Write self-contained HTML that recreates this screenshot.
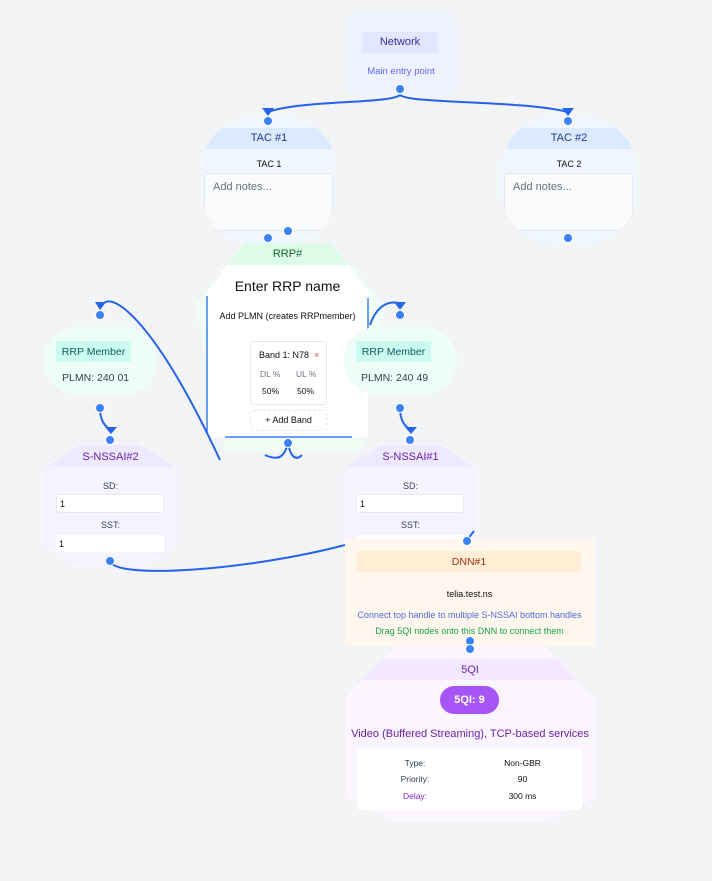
<!DOCTYPE html>
<html><head><meta charset="utf-8"><style>
*{margin:0;padding:0;box-sizing:border-box}
body{width:712px;height:881px;background:#f3f4f6;background-image:radial-gradient(#dfe2e7 0.8px,transparent 0.9px);background-size:16px 16px;font-family:"Liberation Sans",sans-serif;position:relative;overflow:hidden}
.a{position:absolute}
.t{position:absolute;text-align:center;white-space:nowrap}
.h{position:absolute;width:10px;height:10px;border-radius:50%;background:#3b82f6;border:1px solid #fff}
</style></head><body>

<!-- Network -->
<div class="a" style="left:345px;top:14px;width:112px;height:81px;border-radius:12px;background:#eef2ff"></div>
<div class="a" style="left:362px;top:32px;width:76px;height:21px;background:#e0e7ff"></div>
<div class="t" style="left:362px;top:36px;width:76px;font-size:11px;color:#3730a3">Network</div>
<div class="t" style="left:345px;top:66px;width:112px;font-size:9.5px;color:#6366f1">Main entry point</div>

<!-- TAC nodes -->
<div class="a" style="left:202px;top:118px;width:134px;height:125px;border-radius:50px;background:#eff6ff;overflow:hidden">
 <div class="a" style="left:0;top:10px;width:134px;height:21px;background:#dbeafe"></div>
 <div class="t" style="left:0;top:14px;width:134px;font-size:11px;color:#1e3a8a">TAC #1</div>
 <div class="t" style="left:0;top:41px;width:134px;font-size:9px;color:#111">TAC 1</div>
 <div class="a" style="left:2px;top:55px;width:129px;height:58px;background:#f8fafc;border:1px solid #e5e7eb;border-radius:3px"></div>
 <div class="a" style="left:11px;top:63px;font-size:11px;color:#6b7280">Add notes...</div>
</div>
<div class="a" style="left:502px;top:118px;width:134px;height:125px;border-radius:50px;background:#eff6ff;overflow:hidden">
 <div class="a" style="left:0;top:10px;width:134px;height:21px;background:#dbeafe"></div>
 <div class="t" style="left:0;top:14px;width:134px;font-size:11px;color:#1e3a8a">TAC #2</div>
 <div class="t" style="left:0;top:41px;width:134px;font-size:9px;color:#111">TAC 2</div>
 <div class="a" style="left:2px;top:55px;width:129px;height:58px;background:#f8fafc;border:1px solid #e5e7eb;border-radius:3px"></div>
 <div class="a" style="left:11px;top:63px;font-size:11px;color:#6b7280">Add notes...</div>
</div>

<!-- RRP -->
<svg class="a" style="left:0;top:0" width="712" height="881">
 <polygon points="245,243 330,243 385,305 360,452 225,452 195,305" fill="#f0fdf4"/>
 <polygon points="245,243 330,243 348,265 227,265" fill="#dcfce7"/>
 <polygon points="227,265 348,265 368,292 368,437 208,437 208,292" fill="#fff"/>
 <line x1="207" y1="296" x2="207" y2="432" stroke="#3b82f6" stroke-width="1.5"/>
 <line x1="368" y1="298" x2="368" y2="330" stroke="#3b82f6" stroke-width="1.5"/>
 <line x1="225" y1="437" x2="352" y2="437" stroke="#3b82f6" stroke-width="1.5"/>
</svg>
<div class="t" style="left:245px;top:248px;width:85px;font-size:11px;color:#166534">RRP#</div>
<div class="t" style="left:205px;top:278px;width:165px;font-size:14px;color:#111">Enter RRP name</div>
<div class="t" style="left:205px;top:311px;width:165px;font-size:9px;color:#111">Add PLMN (creates RRPmember)</div>
<div class="a" style="left:250px;top:341px;width:77px;height:64px;background:#fff;border:1px solid #e5e7eb;border-radius:3px"></div>
<div class="a" style="left:259px;top:350px;font-size:9px;color:#111">Band 1: N78</div>
<div class="a" style="left:314px;top:350px;font-size:9px;color:#ef4444">×</div>
<div class="a" style="left:260px;top:369px;font-size:8.5px;color:#6b7280">DL %</div>
<div class="a" style="left:296px;top:369px;font-size:8.5px;color:#6b7280">UL %</div>
<div class="a" style="left:262px;top:386px;font-size:8.5px;color:#111">50%</div>
<div class="a" style="left:297px;top:386px;font-size:8.5px;color:#111">50%</div>
<div class="a" style="left:250px;top:410px;width:77px;height:21px;border:1px dashed #e5e7eb;border-radius:3px"></div>
<div class="t" style="left:250px;top:415px;width:77px;font-size:9px;color:#111">+ Add Band</div>

<!-- RRP members -->
<div class="a" style="left:44px;top:327px;width:113px;height:68px;border-radius:34px;background:#effdf9"></div>
<div class="a" style="left:56px;top:341px;width:75px;height:21px;background:#ccfbf1"></div>
<div class="t" style="left:56px;top:346px;width:75px;font-size:10.5px;color:#115e59">RRP Member</div>
<div class="a" style="left:62px;top:372px;font-size:10.5px;color:#374151">PLMN: 240 01</div>

<div class="a" style="left:344px;top:327px;width:113px;height:68px;border-radius:34px;background:#effdf9"></div>
<div class="a" style="left:356px;top:341px;width:75px;height:21px;background:#ccfbf1"></div>
<div class="t" style="left:356px;top:346px;width:75px;font-size:10.5px;color:#115e59">RRP Member</div>
<div class="a" style="left:361px;top:372px;font-size:10.5px;color:#374151">PLMN: 240 49</div>

<!-- S-NSSAI -->
<div class="a" style="left:43px;top:445px;width:135px;height:123px;background:#f5f3ff;clip-path:polygon(28% 0,72% 0,100% 20%,100% 80%,72% 100%,28% 100%,0 80%,0 20%)">
 <div class="a" style="left:0;top:0;width:135px;height:22px;background:#ede9fe"></div>
</div>
<div class="t" style="left:43px;top:451px;width:135px;font-size:11px;color:#6b21a8">S-NSSAI#2</div>
<div class="t" style="left:43px;top:481px;width:135px;font-size:9px;color:#374151">SD:</div>
<div class="a" style="left:56px;top:494px;width:108px;height:19px;background:#fff;border:1px solid #e5e7eb;border-radius:3px;font-size:9px;padding:4px 3px;color:#111">1</div>
<div class="t" style="left:43px;top:520px;width:135px;font-size:9px;color:#374151">SST:</div>
<div class="a" style="left:56px;top:535px;width:108px;height:17px;background:#fff;border-radius:3px 3px 0 0;font-size:9px;padding:4px 3px;color:#111">1</div>

<div class="a" style="left:343px;top:445px;width:135px;height:123px;background:#f5f3ff;clip-path:polygon(28% 0,72% 0,100% 20%,100% 80%,72% 100%,28% 100%,0 80%,0 20%)">
 <div class="a" style="left:0;top:0;width:135px;height:22px;background:#ede9fe"></div>
</div>
<div class="t" style="left:343px;top:451px;width:135px;font-size:11px;color:#6b21a8">S-NSSAI#1</div>
<div class="t" style="left:343px;top:481px;width:135px;font-size:9px;color:#374151">SD:</div>
<div class="a" style="left:356px;top:494px;width:108px;height:19px;background:#fff;border:1px solid #e5e7eb;border-radius:3px;font-size:9px;padding:4px 3px;color:#111">1</div>
<div class="t" style="left:343px;top:520px;width:135px;font-size:9px;color:#374151">SST:</div>
<div class="a" style="left:356px;top:535px;width:108px;height:8px;background:#fff"></div>

<!-- DNN -->
<div class="a" style="left:345px;top:539px;width:249px;height:107px;background:#fff7ed"></div>
<div class="a" style="left:357px;top:551px;width:224px;height:21px;background:#ffedd5"></div>
<div class="t" style="left:357px;top:556px;width:224px;font-size:10.5px;color:#9a3412">DNN#1</div>
<div class="t" style="left:345px;top:589px;width:249px;font-size:9px;color:#111">telia.test.ns</div>
<div class="t" style="left:345px;top:610px;width:249px;font-size:9px;color:#4f6bd8">Connect top handle to multiple S-NSSAI bottom handles</div>
<div class="t" style="left:345px;top:626px;width:249px;font-size:9px;color:#16a34a">Drag 5QI nodes onto this DNN to connect them</div>

<!-- 5QI -->
<div class="a" style="left:345px;top:646px;width:250px;height:176px;background:#faf5ff;clip-path:polygon(20% 0,80% 0,100% 30%,100% 86%,80% 100%,20% 100%,0 86%,0 30%)">
 <div class="a" style="left:0;top:13px;width:250px;height:21px;background:#f3e8ff"></div>
</div>
<div class="t" style="left:345px;top:664px;width:250px;font-size:11px;color:#6b21a8">5QI</div>
<div class="a" style="left:440px;top:686px;width:59px;height:28px;border-radius:14px;background:#a855f7"></div>
<div class="t" style="left:440px;top:694px;width:59px;font-size:11px;font-weight:bold;color:#fff">5QI: 9</div>
<div class="t" style="left:345px;top:728px;width:250px;font-size:11px;color:#6b21a8">Video (Buffered Streaming), TCP-based services</div>
<div class="a" style="left:357px;top:748px;width:225px;height:62px;background:#fff;border-radius:3px"></div>
<div class="t" style="left:390px;top:758px;width:50px;font-size:8.5px;color:#374151">Type:</div>
<div class="t" style="left:490px;top:758px;width:65px;font-size:8.5px;color:#111">Non-GBR</div>
<div class="t" style="left:390px;top:774px;width:50px;font-size:8.5px;color:#374151">Priority:</div>
<div class="t" style="left:490px;top:774px;width:65px;font-size:8.5px;color:#111">90</div>
<div class="t" style="left:390px;top:791px;width:50px;font-size:8.5px;color:#7e22ce">Delay:</div>
<div class="t" style="left:490px;top:791px;width:65px;font-size:8.5px;color:#111">300 ms</div>

<!-- edges -->
<svg class="a" style="left:0;top:0" width="712" height="881" fill="none" stroke="#2563eb" stroke-width="2">
 <path d="M400,95 C390,104 300,100 268,112"/>
 <path d="M400,95 C410,104 520,100 568,112"/>
 <path d="M102,306 C108,290 150,310 220,460"/>
 <path d="M370,325 C375,310 385,300 398,303"/>
 <path d="M288,443 C285,455 280,462 265,455 M288,443 C290,455 295,462 302,455"/>
 <path d="M100,408 C100,420 104,425 110,430"/>
 <path d="M400,408 C400,420 404,425 410,430"/>
 <path d="M110,561 C115,580 250,570 345,545"/>
 <path d="M474,531 L467,540"/>
 <g fill="#2563eb" stroke="none">
  <polygon points="262,108 274,108 268,116"/>
  <polygon points="562,108 574,108 568,116"/>
  <polygon points="95,302 106,302 100,310"/>
  <polygon points="394,302 406,302 400,310"/>
  <polygon points="105,427 117,427 111,434"/>
  <polygon points="405,427 417,427 411,434"/>
 </g>
</svg>
<!-- handles -->
<div class="h" style="left:395px;top:84px"></div>
<div class="h" style="left:263px;top:116px"></div>
<div class="h" style="left:563px;top:116px"></div>
<div class="h" style="left:263px;top:233px"></div>
<div class="h" style="left:283px;top:226px"></div>
<div class="h" style="left:563px;top:233px"></div>
<div class="h" style="left:283px;top:438px"></div>
<div class="h" style="left:95px;top:310px"></div>
<div class="h" style="left:95px;top:403px"></div>
<div class="h" style="left:395px;top:310px"></div>
<div class="h" style="left:395px;top:403px"></div>
<div class="h" style="left:105px;top:435px"></div>
<div class="h" style="left:105px;top:556px"></div>
<div class="h" style="left:405px;top:435px"></div>
<div class="h" style="left:462px;top:536px"></div>
<div class="h" style="left:465px;top:636px"></div>
<div class="h" style="left:465px;top:644px"></div>
</body></html>
